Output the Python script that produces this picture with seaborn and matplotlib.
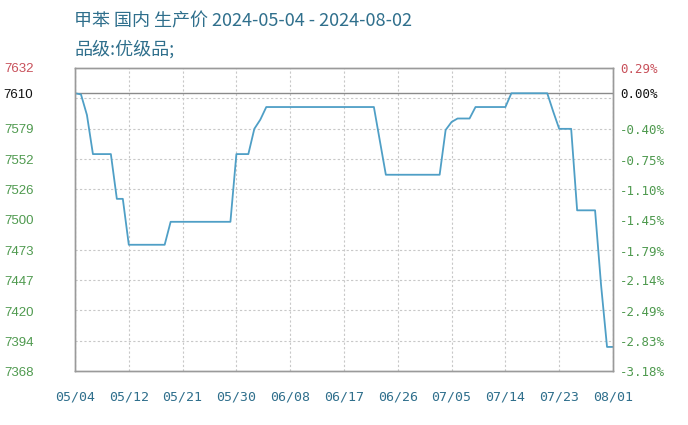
import numpy as np
import pandas as pd
import seaborn as sns
import matplotlib.pyplot as plt

# breakpoints of the price line
dates = ['2024-05-04', '2024-05-05', '2024-05-06', '2024-05-07', '2024-05-10', '2024-05-11',
         '2024-05-12', '2024-05-13', '2024-05-19', '2024-05-20', '2024-05-30', '2024-05-31',
         '2024-06-02', '2024-06-03', '2024-06-04', '2024-06-05', '2024-06-23', '2024-06-25',
         '2024-07-04', '2024-07-05', '2024-07-06', '2024-07-07', '2024-07-09', '2024-07-10',
         '2024-07-15', '2024-07-16', '2024-07-22', '2024-07-23', '2024-07-24', '2024-07-26',
         '2024-07-27', '2024-07-30', '2024-07-31', '2024-08-01', '2024-08-02']
prices = [7610, 7609, 7591, 7557, 7557, 7518, 7518, 7478, 7478, 7498, 7498, 7557,
          7557, 7579, 7587, 7598, 7598, 7539, 7539, 7578, 7585, 7588, 7588, 7598,
          7598, 7610, 7610, 7594, 7579, 7579, 7508, 7508, 7443, 7389, 7389]

base_price = 7610
left_labels = ['7632', '7610', '7579', '7552', '7526', '7500', '7473', '7447', '7420', '7394', '7368']
right_labels = ['0.29%', '0.00%', '-0.40%', '-0.75%', '-1.10%', '-1.45%', '-1.79%',
                '-2.14%', '-2.49%', '-2.83%', '-3.18%']
x_labels = ['05/04', '05/12', '05/21', '05/30', '06/08', '06/17', '06/26', '07/05', '07/14', '07/23', '08/01']

title1 = '甲苯 国内 生产价 2024-05-04 - 2024-08-02'
title2 = '品级:优级品;'

sns.set_style('white')
plt.rcParams['font.family'] = ['Noto Sans CJK SC', 'DejaVu Sans']

df = pd.DataFrame({'date': pd.to_datetime(dates), 'price': prices})
df['day'] = (df['date'] - df['date'].iloc[0]).dt.days

fig = plt.figure(figsize=(6.88, 4.25), dpi=100)
ax = fig.add_axes([0.109, 0.127, 0.782, 0.713])

sns.lineplot(data=df, x='day', y='price', ax=ax, color='#4f9fc6', linewidth=1.3)

ymin, ymax = float(left_labels[-1]), float(left_labels[0])
ax.set_ylim(ymin, ymax)
ax.set_xlim(0, df['day'].iloc[-1])

# dashed grid, evenly spaced
ax.set_xticks(np.linspace(0, df['day'].iloc[-1], len(x_labels)))
ax.set_xticklabels(x_labels, family='DejaVu Sans Mono', fontsize=9.5, color='#2f6f8c')
ax.set_yticks(np.linspace(ymin, ymax, 11), minor=True)
ax.grid(True, which='minor', axis='y', linestyle=(0, (2, 2)), color='#c8c8c8', linewidth=0.8)
ax.grid(True, which='major', axis='x', linestyle=(0, (2, 2)), color='#c8c8c8', linewidth=0.8)
ax.axhline(base_price, color='#8a8a8a', linewidth=1.0, zorder=1)

ytick_pos = [float(v) for v in left_labels]
ax.set_yticks(ytick_pos)
ax.set_yticklabels(left_labels, family='Liberation Sans', fontsize=9.5)
colors = ['#c8505a', '#111111'] + ['#4f9a4f'] * (len(left_labels) - 2)
for lbl, c in zip(ax.get_yticklabels(), colors):
    lbl.set_color(c)
ax.tick_params(axis='y', which='both', length=0, pad=30)
ax.tick_params(axis='x', length=0, pad=14)
ax.set_xlabel('')
ax.set_ylabel('')

ax2 = ax.twinx()
ax2.set_ylim(ymin, ymax)
ax2.set_yticks(ytick_pos)
ax2.set_yticklabels(right_labels, family='DejaVu Sans Mono', fontsize=9)
for lbl, c in zip(ax2.get_yticklabels(), colors):
    lbl.set_color(c)
ax2.tick_params(axis='y', length=0, pad=5)

for a in (ax, ax2):
    for s in a.spines.values():
        s.set_color('#9a9a9a')
        s.set_linewidth(1.0)

fig.text(0.108, 0.95, title1, fontsize=13, color='#2f6f8c', va='center', ha='left')
fig.text(0.108, 0.885, title2, fontsize=13, color='#2f6f8c', va='center', ha='left')

fig.savefig('out.png', dpi=100)
